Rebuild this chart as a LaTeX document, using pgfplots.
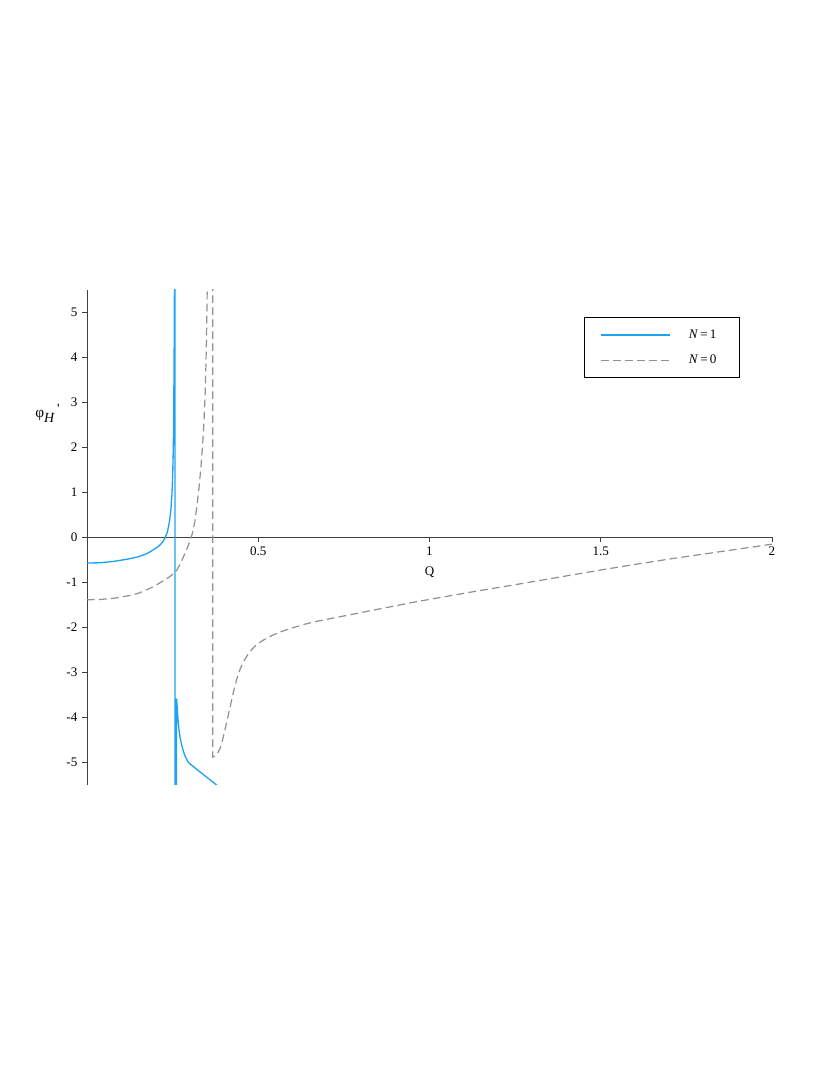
\documentclass[border=0pt]{standalone}
\usepackage{pgfplots}
\pgfplotsset{compat=1.18}
\usepackage{fontspec}
\setmainfont{Liberation Serif}
\definecolor{ncurve}{HTML}{1EA2F4}
\definecolor{zcurve}{HTML}{909090}
\definecolor{axiscol}{HTML}{404040}

\begin{document}
\begin{tikzpicture}
\path[use as bounding box] (0pt,0pt) rectangle (622.5pt,806.25pt);
\begin{axis}[
  at={(65.25pt,217.5pt)}, anchor=south west,
  scale only axis, width=513.75pt, height=371.25pt,
  xmin=0, xmax=2, ymin=-5.5, ymax=5.5,
  axis x line=middle, axis y line=left,
  axis line style={-, axiscol, line width=0.6pt},
  tick align=outside, major tick length=3.75pt,
  tick style={axiscol, line width=0.6pt},
  xtick={0.5,1,1.5,2}, ytick={-5,-4,-3,-2,-1,0,1,2,3,4,5},
  xticklabels={0.5,1,1.5,2},
  yticklabels={-5,-4,-3,-2,-1,0,1,2,3,4,5},
  tick label style={font=\fontsize{9.8}{11}\selectfont, text=black},
  clip mode=individual,
  legend style={at={(axis description cs:0.953,0.945)}, anchor=north east,
    draw=black, line width=0.6pt, inner xsep=11.5pt, inner ysep=7pt,
    row sep=7pt, column sep=11.75pt, font=\fontsize{9.8}{11}\selectfont,
    nodes={inner sep=2pt}},
  legend cell align=left,
  legend image code/.code={\draw[#1] (0pt,0pt) -- (51.75pt,0pt);},
]
\addplot[ncurve, line width=1pt] coordinates {
  (0,-0.57) (0.04,-0.562) (0.08,-0.53) (0.12,-0.48) (0.15,-0.43) (0.175,-0.36)
  (0.195,-0.27) (0.21,-0.19) (0.22,-0.11) (0.228,-0.01) (0.235,0.13) (0.241,0.36)
  (0.245,0.62) (0.248,0.95) (0.2505,1.45) (0.252,2.0) (0.2532,2.8) (0.2541,3.7)
  (0.2548,4.6) (0.2553,5.5) (0.2558,7) (0.2568,100) (0.2572,-100)
  (0.2615,-3.58) (0.2632,-3.75) (0.2648,-3.95) (0.267,-4.17) (0.2695,-4.33)
  (0.2725,-4.48) (0.276,-4.6) (0.281,-4.74) (0.287,-4.87) (0.295,-4.99)
  (0.31,-5.09) (0.33,-5.21) (0.36,-5.39) (0.383,-5.53) (0.39,-5.57)
};
\addlegendentry{\textit{N}\,=\,1\rule{3.75pt}{0pt}}
\addplot[zcurve, line width=0.9pt, dash pattern=on 5.8pt off 3.2pt] coordinates {
  (0,-1.385) (0.04,-1.378) (0.08,-1.35) (0.125,-1.29) (0.15,-1.24) (0.175,-1.16)
  (0.2,-1.07) (0.223,-0.96) (0.24,-0.88) (0.259,-0.77) (0.27,-0.62) (0.281,-0.44)
  (0.292,-0.25) (0.301,-0.07) (0.308,0.1) (0.315,0.36) (0.321,0.7) (0.327,1.1)
  (0.333,1.6) (0.338,2.1) (0.342,2.65) (0.345,3.2) (0.3475,3.9) (0.3495,4.7)
  (0.351,5.5) (0.353,6.5) (0.358,12) (0.3635,40) (0.3668,100)
  (0.3672,-4.88) (0.372,-4.86) (0.378,-4.82) (0.383,-4.77) (0.388,-4.7)
  (0.393,-4.58) (0.398,-4.43) (0.403,-4.27) (0.408,-4.1) (0.413,-3.93)
  (0.418,-3.76) (0.423,-3.59) (0.428,-3.42) (0.433,-3.27) (0.438,-3.13)
  (0.445,-2.97) (0.452,-2.84) (0.46,-2.72) (0.47,-2.6) (0.48,-2.5) (0.49,-2.42)
  (0.5,-2.36) (0.515,-2.28) (0.54,-2.18) (0.564,-2.1) (0.6,-2.01) (0.63,-1.94)
  (0.661,-1.88) (0.7,-1.82) (0.75,-1.745) (0.807,-1.66) (0.88,-1.55)
  (0.953,-1.44) (1.05,-1.31) (1.147,-1.18) (1.25,-1.05) (1.35,-0.92)
  (1.43,-0.815) (1.503,-0.72) (1.6,-0.6) (1.7,-0.48) (1.8,-0.37) (1.9,-0.26)
  (2.0,-0.15)
};
\addlegendentry{\textit{N}\,=\,0\rule{3.75pt}{0pt}}
\node[font=\fontsize{9.8}{11}\selectfont] at (axis cs:1,0) [yshift=-26pt] {Q};
\node[anchor=west, inner sep=0pt, font=\fontsize{10.5}{12}\selectfont] at (axis cs:0,2.76) [xshift=-39pt]
  {{\fontsize{11.5}{12}\selectfont φ}\raisebox{-0.35em}{\textit{H}}\raisebox{0.25em}{\,\textquotesingle}};
\end{axis}
\end{tikzpicture}
\end{document}
